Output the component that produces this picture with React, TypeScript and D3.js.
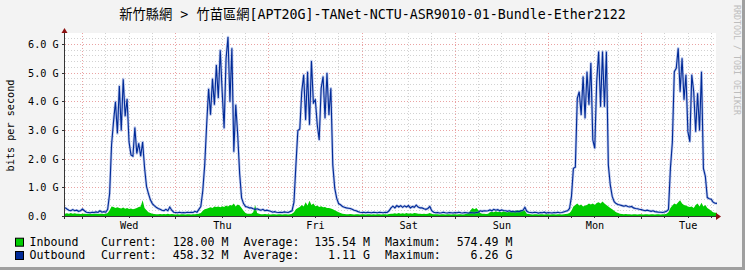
import React from 'react';
import * as d3 from 'd3';

const W = 745;
const H = 270;
const TITLE = '新竹縣網 > 竹苗區網[APT20G]-TANet-NCTU-ASR9010-01-Bundle-Ether2122';
const Y_LABEL = 'bits per second';
const WATERMARK = 'RRDTOOL / TOBI OETIKER';

// time axis: hours since graph start (7 days), samples every 30 min
const STEP_HOURS = 0.5;
const TOTAL_HOURS = 168;
const FIRST_MIDNIGHT = 4.56;
const dayNames = ['Wed', 'Thu', 'Fri', 'Sat', 'Sun', 'Mon', 'Tue'];

const yMajor = [0, 1, 2, 3, 4, 5, 6];
const yMajorLabels = ['0.0', '1.0 G', '2.0 G', '3.0 G', '4.0 G', '5.0 G', '6.0 G'];

// Outbound (Gbit/s), 30-min samples, one chunk per ~day
const outA = [0.31, 0.26, 0.22, 0.2, 0.24, 0.2, 0.22, 0.18, 0.2, 0.26,
  0.2, 0.15, 0.14, 0.13, 0.15, 0.14, 0.16, 0.14, 0.2, 0.15,
  0.17, 0.15, 0.25, 0.8, 2.5, 3.3, 4.0, 2.9, 4.55, 3.0,
  4.79, 3.5, 4.1, 2.6, 2.15, 2.1, 3.1, 2.2, 2.55, 2.1,
  2.6, 1.7, 1.05, 0.8, 0.58, 0.45, 0.38, 0.32];
const outB = [0.28, 0.25, 0.22, 0.2, 0.25, 0.2, 0.33, 0.22, 0.15, 0.14,
  0.13, 0.15, 0.13, 0.14, 0.13, 0.15, 0.14, 0.15, 0.14, 0.18,
  0.15, 0.25, 0.35, 0.9, 1.8, 3.2, 4.45, 3.55, 4.8, 3.9,
  5.28, 4.13, 5.8, 4.35, 3.08, 5.5, 6.26, 4.0, 5.87, 2.26,
  3.9, 2.85, 1.5, 0.65, 0.45, 0.35, 0.33, 0.3];
const outC = [0.3, 0.27, 0.25, 0.27, 0.24, 0.22, 0.25, 0.2, 0.22, 0.2,
  0.18, 0.15, 0.17, 0.15, 0.14, 0.15, 0.14, 0.16, 0.15, 0.14,
  0.17, 0.2, 0.5, 1.8, 3.0, 3.05, 4.35, 4.94, 3.37, 5.05,
  3.2, 5.42, 3.96, 4.07, 3.2, 2.67, 4.47, 4.88, 3.43, 5.0,
  3.54, 4.47, 1.8, 0.99, 0.64, 0.45, 0.41, 0.35];
const outD = [0.32, 0.3, 0.29, 0.28, 0.25, 0.22, 0.2, 0.17, 0.15, 0.14,
  0.15, 0.13, 0.15, 0.14, 0.13, 0.15, 0.14, 0.13, 0.15, 0.14,
  0.13, 0.15, 0.14, 0.2, 0.3, 0.36, 0.3, 0.38, 0.33, 0.38,
  0.32, 0.37, 0.33, 0.38, 0.3, 0.35, 0.32, 0.4, 0.33, 0.3,
  0.3, 0.27, 0.25, 0.28, 0.35, 0.2, 0.15, 0.13];
const outE = [0.14, 0.12, 0.13, 0.15, 0.13, 0.12, 0.14, 0.13, 0.12, 0.14,
  0.13, 0.15, 0.13, 0.12, 0.14, 0.13, 0.12, 0.14, 0.13, 0.12,
  0.14, 0.15, 0.2, 0.18, 0.2, 0.19, 0.2, 0.23, 0.2, 0.25,
  0.22, 0.24, 0.2, 0.23, 0.21, 0.2, 0.18, 0.2, 0.17, 0.18,
  0.16, 0.18, 0.17, 0.2, 0.22, 0.32, 0.18, 0.15];
const outF = [0.14, 0.13, 0.15, 0.14, 0.12, 0.14, 0.13, 0.15, 0.12, 0.14,
  0.13, 0.12, 0.14, 0.13, 0.15, 0.13, 0.14, 0.16, 0.18, 0.2,
  0.28, 0.7, 1.68, 1.72, 4.12, 4.35, 3.54, 4.88, 3.43, 5.05,
  3.9, 5.35, 2.67, 2.38, 4.7, 5.75, 3.83, 5.75, 3.83, 5.75,
  1.8, 1.1, 0.7, 0.52, 0.45, 0.42, 0.4, 0.38];
const outG = [0.36, 0.38, 0.35, 0.33, 0.35, 0.3, 0.28, 0.27, 0.25, 0.24,
  0.22, 0.2, 0.22, 0.2, 0.18, 0.2, 0.17, 0.16, 0.15, 0.15,
  0.14, 0.16, 0.18, 0.25, 1.68, 2.6, 5.05, 5.17, 5.87, 4.35,
  5.52, 4.07, 4.94, 2.96, 2.61, 4.94, 4.35, 2.96, 4.3, 3.0,
  5.05, 1.68, 1.4, 0.66, 0.62, 0.6, 0.5, 0.46, 0.458];

// Inbound (Gbit/s), 30-min samples
const inA = [0.1, 0.11, 0.1, 0.12, 0.1, 0.11, 0.1, 0.1, 0.09, 0.1,
  0.1, 0.09, 0.1, 0.1, 0.09, 0.1, 0.1, 0.09, 0.1, 0.1,
  0.09, 0.1, 0.12, 0.22, 0.35, 0.33, 0.3, 0.32, 0.3, 0.28,
  0.31, 0.27, 0.3, 0.26, 0.28, 0.25, 0.27, 0.3, 0.33, 0.35,
  0.57, 0.3, 0.22, 0.15, 0.12, 0.1, 0.09, 0.08];
const inB = [0.08, 0.09, 0.08, 0.09, 0.08, 0.1, 0.08, 0.09, 0.08, 0.07,
  0.08, 0.07, 0.08, 0.08, 0.07, 0.08, 0.08, 0.07, 0.08, 0.08,
  0.09, 0.1, 0.12, 0.2, 0.25, 0.27, 0.3, 0.32, 0.3, 0.35,
  0.33, 0.35, 0.32, 0.36, 0.33, 0.38, 0.35, 0.4, 0.38, 0.45,
  0.35, 0.42, 0.38, 0.3, 0.2, 0.12, 0.1, 0.1];
const inC = [0.1, 0.15, 0.4, 0.12, 0.1, 0.08, 0.08, 0.09, 0.08, 0.08,
  0.07, 0.08, 0.08, 0.07, 0.08, 0.08, 0.07, 0.08, 0.08, 0.07,
  0.08, 0.1, 0.15, 0.25, 0.3, 0.33, 0.4, 0.35, 0.5, 0.38,
  0.55, 0.4, 0.45, 0.36, 0.38, 0.33, 0.36, 0.32, 0.33, 0.3,
  0.3, 0.28, 0.25, 0.22, 0.18, 0.15, 0.12, 0.1];
const inD = [0.09, 0.08, 0.08, 0.09, 0.08, 0.07, 0.08, 0.08, 0.07, 0.08,
  0.08, 0.07, 0.08, 0.08, 0.07, 0.08, 0.07, 0.08, 0.08, 0.07,
  0.08, 0.08, 0.07, 0.09, 0.1, 0.1, 0.11, 0.1, 0.12, 0.1,
  0.11, 0.1, 0.12, 0.1, 0.11, 0.1, 0.12, 0.11, 0.1, 0.1,
  0.09, 0.1, 0.09, 0.1, 0.12, 0.09, 0.08, 0.08];
const inE = [0.08, 0.07, 0.08, 0.08, 0.07, 0.08, 0.08, 0.07, 0.08, 0.08,
  0.07, 0.08, 0.08, 0.07, 0.08, 0.1, 0.12, 0.22, 0.3, 0.25,
  0.3, 0.22, 0.12, 0.1, 0.1, 0.09, 0.1, 0.15, 0.17, 0.15,
  0.18, 0.16, 0.17, 0.15, 0.18, 0.16, 0.15, 0.17, 0.16, 0.18,
  0.2, 0.22, 0.2, 0.23, 0.22, 0.2, 0.1, 0.09];
const inF = [0.08, 0.07, 0.08, 0.08, 0.07, 0.08, 0.08, 0.07, 0.08, 0.08,
  0.07, 0.08, 0.08, 0.07, 0.08, 0.08, 0.07, 0.08, 0.09, 0.1,
  0.12, 0.2, 0.35, 0.4, 0.45, 0.38, 0.42, 0.35, 0.38, 0.4,
  0.45, 0.42, 0.45, 0.4, 0.47, 0.5, 0.45, 0.52, 0.45, 0.4,
  0.35, 0.3, 0.25, 0.2, 0.15, 0.12, 0.1, 0.09];
const inG = [0.08, 0.09, 0.08, 0.08, 0.07, 0.08, 0.08, 0.07, 0.08, 0.08,
  0.07, 0.08, 0.08, 0.07, 0.08, 0.08, 0.07, 0.08, 0.08, 0.07,
  0.08, 0.08, 0.1, 0.15, 0.3, 0.38, 0.45, 0.42, 0.5, 0.57,
  0.45, 0.4, 0.38, 0.35, 0.33, 0.35, 0.3, 0.4, 0.45, 0.35,
  0.48, 0.35, 0.4, 0.3, 0.25, 0.2, 0.15, 0.13, 0.128];

const outbound = [...outA, ...outB, ...outC, ...outD, ...outE, ...outF, ...outG];
const inbound = [...inA, ...inB, ...inC, ...inD, ...inE, ...inF, ...inG];

const legendNames = ['Inbound', 'Outbound'];
const legendCurrent = ['128.00 M', '458.32 M'];
const legendAverage = ['135.54 M', '1.11 G'];
const legendMaximum = ['574.49 M', '6.26 G'];
const seriesColors = ['#00cc00', '#002a97'];

const MONO = '"DejaVu Sans Mono", "Noto Sans CJK TC", monospace';

export default function App() {
  const left = 65;
  const right = 716;
  const top = 33;
  const bottom = 216.5;

  const x = d3.scaleLinear().domain([0, TOTAL_HOURS]).range([65, 717]);
  const y = d3.scaleLinear().domain([0, 6.4]).range([bottom, top]);

  const px = (v: number) => Math.floor(x(v)) + 0.5;
  const py = (v: number) => Math.round(y(v) - 0.5) + 0.5;

  const minorY = d3.range(1, 32).map((k) => k * 0.2).filter((v) => Math.abs(v - Math.round(v)) > 1e-6);
  const majorY = yMajor.filter((v) => v > 0);

  const vLines: { t: number; major: boolean }[] = [];
  for (let k = 0; ; k++) {
    const t = FIRST_MIDNIGHT + k * 6;
    if (t > TOTAL_HOURS) break;
    vLines.push({ t, major: k % 4 === 0 });
  }

  const area = d3
    .area<number>()
    .x((_, i) => x(i * STEP_HOURS))
    .y0(bottom)
    .y1((d) => y(d));
  const line = d3
    .line<number>()
    .x((_, i) => x(i * STEP_HOURS))
    .y((d) => y(d));

  const gridGray = '#d2d2d2';
  const gridRed = '#eaa3a3';
  const outPath = line(outbound) || '';

  return (
    <svg
      width={W}
      height={H}
      style={{ position: 'absolute', left: 0, top: 0, display: 'block' }}
      xmlns="http://www.w3.org/2000/svg"
    >
      <rect x={0} y={0} width={W} height={H} fill="#f3f3f3" />
      {/* frame shade */}
      <rect x={0} y={H - 3} width={W} height={3} fill="#9f9f9f" />
      <rect x={W - 3} y={0} width={3} height={H} fill="#9f9f9f" />

      {/* title */}
      <text x={W / 2} y={19} textAnchor="middle" fontFamily={MONO} fontSize={13.3} fill="#000">
        {TITLE}
      </text>

      {/* watermark */}
      <text
        transform={`translate(733.5, 60) rotate(90)`}
        textAnchor="middle"
        fontFamily={MONO}
        fontSize={8.3}
        fill="#bdbdbd"
      >
        {WATERMARK}
      </text>

      {/* canvas */}
      <rect x={left} y={top} width={right - left} height={bottom - top} fill="#ffffff" />

      {/* grid */}
      <g strokeWidth={1} strokeDasharray="1,2" shapeRendering="crispEdges">
        {minorY.map((v) => (
          <line key={'mny' + v} x1={left} x2={right} y1={py(v)} y2={py(v)} stroke={gridGray} />
        ))}
        {vLines.filter((l) => !l.major).map((l) => (
          <line key={'mnx' + l.t} x1={px(l.t)} x2={px(l.t)} y1={top} y2={bottom} stroke={gridGray} />
        ))}
        {majorY.map((v) => (
          <line key={'mjy' + v} x1={left} x2={right} y1={py(v)} y2={py(v)} stroke={gridRed} />
        ))}
        {vLines.filter((l) => l.major).map((l) => (
          <line key={'mjx' + l.t} x1={px(l.t)} x2={px(l.t)} y1={top} y2={bottom} stroke={gridRed} />
        ))}
      </g>

      {/* data */}
      <path d={area(inbound) || ''} fill={seriesColors[0]} />
      <path d={outPath} fill="none" stroke="#6d88d4" strokeOpacity={0.45} strokeWidth={2.6} strokeLinejoin="round" />
      <path d={outPath} fill="none" stroke={seriesColors[1]} strokeWidth={1.1} strokeLinejoin="miter" />

      {/* axes */}
      <g stroke="#333" strokeWidth={1} shapeRendering="crispEdges">
        <line x1={62} x2={717} y1={216.5} y2={216.5} />
        <line x1={64.5} x2={64.5} y1={219} y2={31} />
        {majorY.map((v) => (
          <line key={'ty' + v} x1={62} x2={64} y1={py(v)} y2={py(v)} />
        ))}
        {vLines.map((l) => (
          <line key={'tx' + l.t} x1={px(l.t)} x2={px(l.t)} y1={217} y2={l.major ? 219 : 218} />
        ))}
      </g>
      <polygon points="61.5,33 67.5,33 64.5,28" fill="#8b1010" />
      <polygon points="716,213 716,220 721,216.5" fill="#8b1010" />

      {/* y tick labels */}
      {yMajor.map((v, i) => (
        <text key={'yl' + v} x={28} y={py(v) + 3.5} fontFamily={MONO} fontSize={10.2} fill="#000">
          {yMajorLabels[i]}
        </text>
      ))}

      {/* x tick labels */}
      {dayNames.map((d, i) => (
        <text
          key={d}
          x={x(FIRST_MIDNIGHT + 12 + i * 24)}
          y={229}
          textAnchor="middle"
          fontFamily={MONO}
          fontSize={10.2}
          fill="#000"
        >
          {d}
        </text>
      ))}

      {/* y axis title */}
      <text
        transform={`translate(13.8, 125.5) rotate(-90)`}
        textAnchor="middle"
        fontFamily={MONO}
        fontSize={10.2}
        fill="#000"
      >
        {Y_LABEL}
      </text>

      {/* legend */}
      {legendNames.map((name, i) => {
        const by = 245.7 + i * 13.3;
        return (
          <g key={name} fontFamily={MONO} fontSize={11.6} fill="#000">
            <rect x={15.5} y={by - 7.5} width={8} height={8} fill={seriesColors[i]} stroke="#000" strokeWidth={1} />
            <text x={29.5} y={by}>{name}</text>
            <text x={101} y={by}>Current:</text>
            <text x={228.5} y={by} textAnchor="end">{legendCurrent[i]}</text>
            <text x={243.6} y={by}>Average:</text>
            <text x={370} y={by} textAnchor="end">{legendAverage[i]}</text>
            <text x={385} y={by}>Maximum:</text>
            <text x={512.5} y={by} textAnchor="end">{legendMaximum[i]}</text>
          </g>
        );
      })}
    </svg>
  );
}
